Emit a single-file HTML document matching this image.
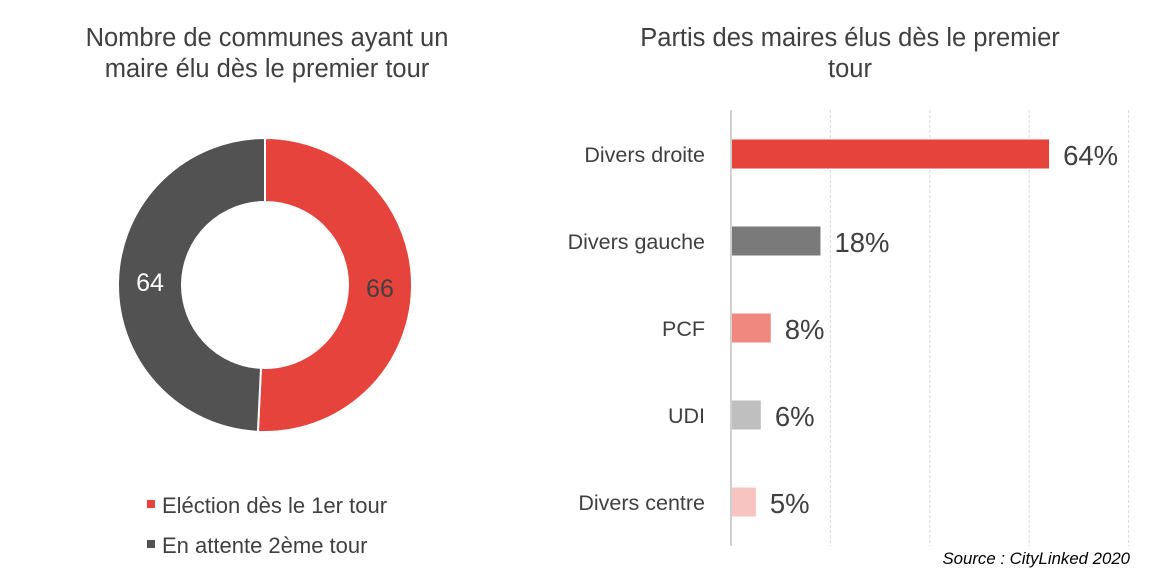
<!DOCTYPE html>
<html><head><meta charset="utf-8"><style>
body{margin:0;background:#fff;width:1157px;height:579px;overflow:hidden;font-family:"Liberation Sans",sans-serif;}
svg text{font-family:"Liberation Sans",sans-serif;}
</style></head><body>
<svg id="c" width="1157" height="579">
<text x="267" y="46" text-anchor="middle" font-size="25.5" fill="#404040">Nombre de communes ayant un</text>
<text x="267" y="77" text-anchor="middle" font-size="25.5" fill="#404040">maire élu dès le premier tour</text>
<text x="850" y="46" text-anchor="middle" font-size="25.5" fill="#404040">Partis des maires élus dès le premier</text>
<text x="850" y="77" text-anchor="middle" font-size="25.5" fill="#404040">tour</text>
<g id="donut"></g>
<g id="bars"></g>
<rect x="147" y="500" width="8" height="8" fill="#e5433b"/>
<text x="162" y="513" font-size="22" fill="#404040">Eléction dès le 1er tour</text>
<rect x="147" y="540" width="8" height="8" fill="#525252"/>
<text x="162" y="553" font-size="22" fill="#404040">En attente 2ème tour</text>
<text x="1130" y="564" text-anchor="end" font-size="16.8" font-style="italic" fill="#000">Source : CityLinked 2020</text>
</svg>
<script>
const donutLabels=["Eléction dès le 1er tour","En attente 2ème tour"];
const donutValues=[66,64];
const donutColors=["#e5433b","#525252"];
const barCategories=["Divers droite","Divers gauche","PCF","UDI","Divers centre"];
const barValues=[64,18,8,6,5];
const barColors=["#e5433b","#7a7a7a","#f08880","#bfbfbf","#f7c4c2"];
const gridTicks=[0,20,40,60,80];
const NS="http://www.w3.org/2000/svg";
function mk(t,a,p){const e=document.createElementNS(NS,t);for(const k in a)e.setAttribute(k,a[k]);p.appendChild(e);return e;}
const dg=document.getElementById('donut');
const cx=265,cy=285,R=147,r=83;
const tot=donutValues.reduce((a,b)=>a+b,0);
let ang=0;
donutValues.forEach((v,i)=>{
  const a0=ang,a1=ang+v/tot*2*Math.PI;ang=a1;
  const p=(rad,a)=>[cx+rad*Math.sin(a),cy-rad*Math.cos(a)];
  const [x0,y0]=p(R,a0),[x1,y1]=p(R,a1),[x2,y2]=p(r,a1),[x3,y3]=p(r,a0);
  const lg=(a1-a0)>Math.PI?1:0;
  const s=mk('path',{d:`M${x0},${y0}A${R},${R} 0 ${lg} 1 ${x1},${y1}L${x2},${y2}A${r},${r} 0 ${lg} 0 ${x3},${y3}Z`,fill:donutColors[i],stroke:'#fff','stroke-width':2},dg);
  
  
  const am=(a0+a1)/2,[lx,ly]=p((R+r)/2,am);
  const t=mk('text',{x:lx,y:ly+9,'text-anchor':'middle','font-size':25,fill:i==0?'#404040':'#fff'},dg);
  t.textContent=v;
  
  
});
const bg=document.getElementById('bars');
const x0=731,pxPer=4.97;
const xs=v=>x0+v*pxPer;
gridTicks.forEach((g,i)=>{
  const l=mk('line',{x1:xs(g),x2:xs(g),y1:110,y2:546,stroke:i==0?'#d0d0d0':'#d9d9d9','stroke-width':i==0?2:1,'stroke-dasharray':i==0?'':'3,2'},bg);
  
  
});
const yc=i=>154+i*87;
barCategories.forEach((c,i)=>{
  const b=mk('rect',{x:x0+1,y:yc(i)-14.5,width:xs(barValues[i])-x0-1,height:29,fill:barColors[i]},bg);
  
  
  const t=mk('text',{x:705,y:yc(i)+8,'text-anchor':'end','font-size':21.5,fill:'#404040'},bg);
  t.textContent=c;
  
  
  const v=mk('text',{x:xs(barValues[i])+14,y:yc(i)+11,'font-size':27.5,fill:'#404040'},bg);
  v.textContent=barValues[i]+'%';
  
  
});
</script>
</body></html>
